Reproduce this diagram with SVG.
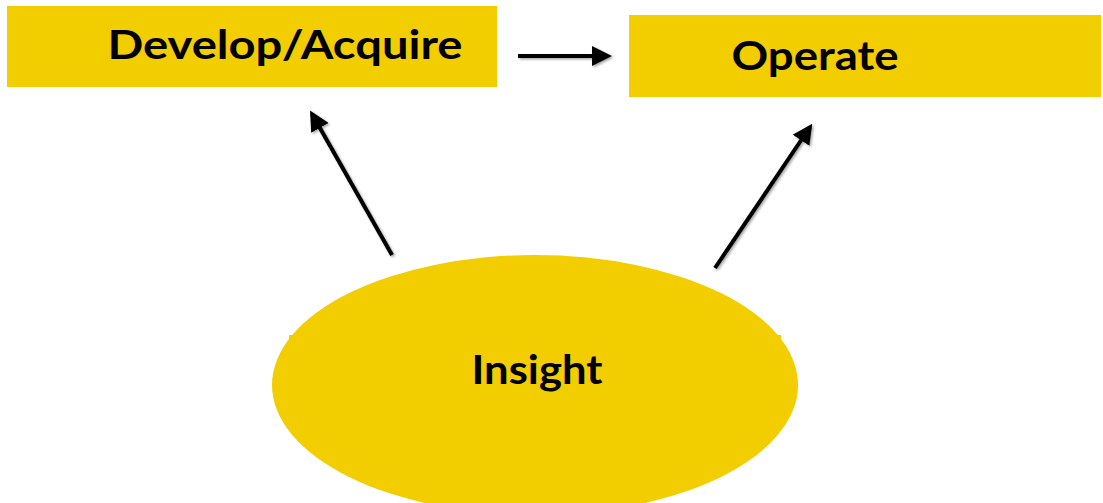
<svg xmlns="http://www.w3.org/2000/svg" width="1103" height="503" viewBox="0 0 1103 503">
  <style>
    .box { fill: #f2cd00; }
    .label { font-family: "Lato", "Liberation Sans", sans-serif; font-weight: bold; fill: #000; }
    .conn { stroke: #000; stroke-width: 4; fill: none; marker-end: url(#head); filter: url(#shadow); }
  </style>
  <defs>
    <marker id="head" viewBox="0 0 10 10" refX="8" refY="5" markerWidth="5" markerHeight="5" orient="auto" markerUnits="strokeWidth">
      <path d="M0,0 L10,5 L0,10 z" fill="#000"/>
    </marker>
    <filter id="shadow" filterUnits="userSpaceOnUse" x="0" y="0" width="1103" height="503">
      <feDropShadow dx="1.5" dy="1.5" stdDeviation="1.2" flood-color="#000" flood-opacity="0.35"/>
    </filter>
  </defs>

  <g id="develop">
    <rect class="box" x="7" y="6" width="490" height="81"/>
    <text class="label" x="285" y="59" font-size="41" text-anchor="middle" textLength="355" lengthAdjust="spacingAndGlyphs">Develop/Acquire</text>
  </g>

  <g id="operate">
    <rect class="box" x="629" y="15" width="472" height="82"/>
    <text class="label" x="815" y="70" font-size="41" text-anchor="middle" textLength="167" lengthAdjust="spacingAndGlyphs">Operate</text>
  </g>

  <g id="insight">
    <ellipse class="box" cx="535" cy="385" rx="263" ry="130"/>
    <rect class="box" x="289" y="335" width="5" height="5"/>
    <rect class="box" x="776" y="335" width="5" height="5"/>
    <text class="label" x="537" y="384" font-size="41" text-anchor="middle" textLength="131" lengthAdjust="spacingAndGlyphs">Insight</text>
  </g>

  <g id="connectors">
    <line class="conn" x1="518" y1="56" x2="608" y2="56"/>
    <line class="conn" x1="392" y1="255" x2="312" y2="114"/>
    <line class="conn" x1="715" y1="268" x2="810" y2="127"/>
  </g>
</svg>
